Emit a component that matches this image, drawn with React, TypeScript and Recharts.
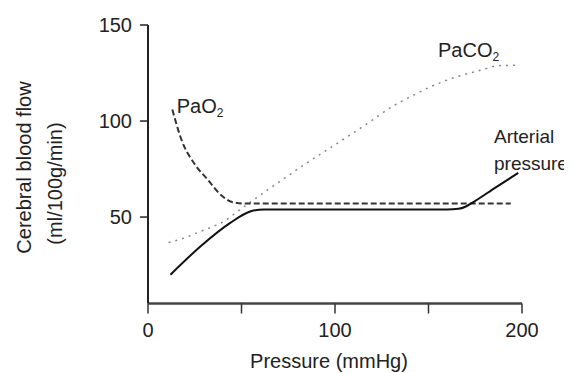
import React from 'react';
import { LineChart, Line, XAxis, YAxis } from 'recharts';

// Arterial pressure (solid)
const arterialX = [12, 28, 44, 55, 62, 80, 100, 130, 160, 166, 170, 174, 186, 198];
const arterialY = [20, 34.7, 47, 53, 54, 54, 54, 54, 54, 54.3, 55.5, 57.8, 65.5, 73];

// PaO2 (dashed)
const pao2X = [13, 18, 25, 32, 39, 45, 52, 70, 100, 130, 160, 194];
const pao2Y = [106, 90, 77.5, 69.4, 61.5, 57.8, 57, 57, 57, 57, 57, 57];

// PaCO2 (dotted)
const paco2X = [11, 20, 28, 35, 41, 46, 51, 58, 64, 72, 82, 95, 108, 120, 130, 141, 151, 165, 178, 187, 197];
const paco2Y = [36.8, 39.3, 42.5, 45.2, 48, 51.5, 55.2, 60, 64.2, 69.5, 76.3, 84.5, 92.7, 100.5, 107.2, 113, 117.8, 123, 126.5, 128.8, 129];

const xTicks = [0, 50, 100, 150, 200];
const yTicks = [50, 100, 150];

const toPoints = (xs: number[], ys: number[]) => xs.map((x, i) => ({ x, y: ys[i] }));

const FONT = '"Liberation Sans", Arial, sans-serif';

export default function App() {
  const arterial = toPoints(arterialX, arterialY);
  const pao2 = toPoints(pao2X, pao2Y);
  const paco2 = toPoints(paco2X, paco2Y);

  const tickStyle = { fontSize: 20, fill: '#222', fontFamily: FONT };

  return (
    <div style={{ position: 'relative', width: 564, height: 365 }}>
      <LineChart width={564} height={365} margin={{ top: 17, right: 50, bottom: 29.5, left: 80 }}>
        <XAxis
          type="number"
          dataKey="x"
          domain={[0, 200]}
          ticks={xTicks}
          tickFormatter={(v: number) => (v % 100 === 0 ? String(v) : '')}
          height={40}
          tickSize={10}
          tickMargin={9}
          tick={tickStyle}
          axisLine={{ stroke: '#444', strokeWidth: 2.5 }}
          tickLine={{ stroke: '#333', strokeWidth: 1.5 }}
        />
        <YAxis
          type="number"
          dataKey="y"
          domain={[5, 150]}
          ticks={yTicks}
          width={60}
          tickSize={8}
          tickMargin={8}
          tick={tickStyle}
          axisLine={{ stroke: '#222', strokeWidth: 2 }}
          tickLine={{ stroke: '#222', strokeWidth: 1.5 }}
        />
        <Line data={paco2} dataKey="y" type="monotone" stroke="#888" strokeWidth={1.5}
          strokeDasharray="2 5" dot={false} isAnimationActive={false} />
        <Line data={pao2} dataKey="y" type="monotone" stroke="#333" strokeWidth={2}
          strokeDasharray="6 3" dot={false} isAnimationActive={false} />
        <Line data={arterial} dataKey="y" type="monotone" stroke="#111" strokeWidth={2}
          dot={false} isAnimationActive={false} />
      </LineChart>
      <svg width={564} height={365} style={{ position: 'absolute', left: 0, top: 0, pointerEvents: 'none' }}
        fontFamily={FONT} fontSize={20} fill="#222">
        <text transform="translate(16,159.5) rotate(-90)" textAnchor="middle" dy="0.35em">Cerebral blood flow</text>
        <text transform="translate(47,175.5) rotate(-90)" textAnchor="middle" dy="0.35em">(ml/100g/min)</text>
        <text x={321} y={360} textAnchor="middle">Pressure (mmHg)</text>
        <text x={168.7} y={105}>PaO<tspan fontSize={12} dy={4}>2</tspan></text>
        <text x={430} y={48.7}>PaCO<tspan fontSize={12} dy={4}>2</tspan></text>
        <text x={486} y={135.3} fontSize={19}>Arterial</text>
        <text x={486} y={162} fontSize={19}>pressure</text>
      </svg>
    </div>
  );
}
